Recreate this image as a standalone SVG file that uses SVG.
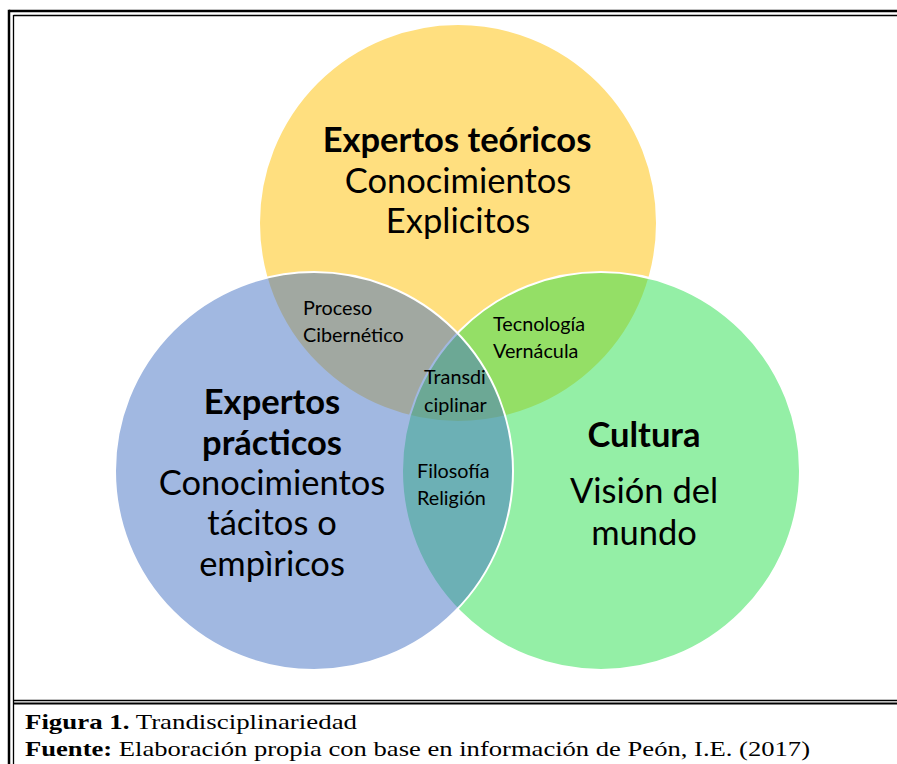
<svg xmlns="http://www.w3.org/2000/svg" width="897" height="764" viewBox="0 0 897 764">
<style>
.c{stroke:#fff;stroke-width:2}
.big{font-family:Lato,"Liberation Sans",sans-serif;font-size:34.5px;fill:#000;text-anchor:middle}
.b{font-weight:bold}
.sm{font-family:Lato,"Liberation Sans",sans-serif;font-size:19.8px;fill:#000}
.cap{font-family:"Liberation Serif","Times New Roman",serif;font-size:22px;fill:#000}
.fr{stroke:#000;fill:none}
</style>
<rect width="897" height="764" fill="#fff"/>
<g id="frame">
<line class="fr" x1="9" y1="11" x2="897" y2="11" stroke-width="2.5"/>
<line class="fr" x1="9" y1="9.8" x2="9" y2="764" stroke-width="2.5"/>
<line class="fr" x1="13.5" y1="15.5" x2="897" y2="15.5" stroke-width="1.3"/>
<line class="fr" x1="13.5" y1="15" x2="13.5" y2="764" stroke-width="1.3"/>
<line class="fr" x1="13" y1="700.5" x2="897" y2="700.5" stroke-width="1.6"/>
<line class="fr" x1="13" y1="703.5" x2="897" y2="703.5" stroke-width="2.2"/>
</g>
<g id="yellow"><circle class="c" cx="458" cy="223" r="199" fill="#FFC000" fill-opacity="0.5"/></g>
<g id="green"><circle class="c" cx="601" cy="471" r="199" fill="#29DF4D" fill-opacity="0.5"/></g>
<g id="blue"><circle class="c" cx="314" cy="471" r="199" fill="#4472C4" fill-opacity="0.5"/></g>
<g id="connectors"></g>
<g id="label-yellow">
<text class="big b" x="457" y="152">Expertos teóricos</text>
<text class="big" x="458" y="193">Conocimientos</text>
<text class="big" x="458" y="233">Explicitos</text>
</g>
<g id="label-blue">
<text class="big b" x="272" y="414">Expertos</text>
<text class="big b" x="272" y="455">prácticos</text>
<text class="big" x="272" y="495">Conocimientos</text>
<text class="big" x="272" y="535">tácitos o</text>
<text class="big" x="272" y="576">empìricos</text>
</g>
<g id="label-green">
<text class="big b" x="644" y="447">Cultura</text>
<text class="big" x="644" y="503">Visión del</text>
<text class="big" x="644" y="545">mundo</text>
</g>
<g id="label-yb">
<text class="sm" x="303" y="315">Proceso</text>
<text class="sm" x="303" y="342">Cibernético</text>
</g>
<g id="label-yg">
<text class="sm" x="493" y="331">Tecnología</text>
<text class="sm" x="493" y="358">Vernácula</text>
</g>
<g id="label-center">
<text class="sm" x="424" y="384">Transdi</text>
<text class="sm" x="424" y="412">ciplinar</text>
</g>
<g id="label-bg">
<text class="sm" x="417" y="478">Filosofía</text>
<text class="sm" x="417" y="505">Religión</text>
</g>
<g id="caption">
<text class="cap" x="25" y="729" textLength="332" lengthAdjust="spacingAndGlyphs"><tspan font-weight="bold">Figura 1.</tspan> Trandisciplinariedad</text>
<text class="cap" x="25" y="756" textLength="785" lengthAdjust="spacingAndGlyphs"><tspan font-weight="bold">Fuente:</tspan> Elaboración propia con base en información de Peón, I.E. (2017)</text>
</g>
</svg>
